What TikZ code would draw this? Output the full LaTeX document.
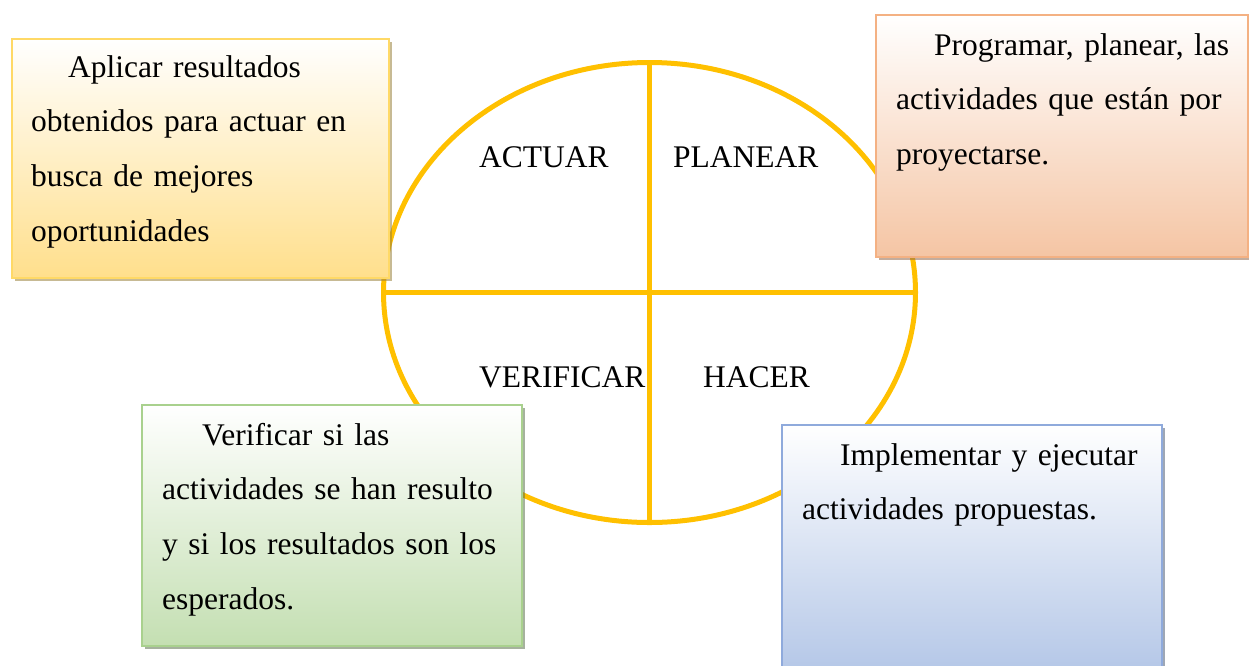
\documentclass[tikz,border=0pt]{standalone}
\usepackage{fontspec}
\setmainfont{Liberation Serif}
\usetikzlibrary{shapes.geometric,shadows}
\definecolor{gold}{HTML}{FFC000}
\definecolor{ylborder}{HTML}{FFD966}
\definecolor{ylfill}{HTML}{FFDF8C}
\definecolor{orborder}{HTML}{F4B183}
\definecolor{orfill}{HTML}{F5C5A4}
\definecolor{grborder}{HTML}{A9D18E}
\definecolor{grfill}{HTML}{C4DFB2}
\definecolor{blborder}{HTML}{8FAADC}
\definecolor{blfill}{HTML}{B3C6E7}
\begin{document}
\begin{tikzpicture}[x=1pt,y=-1pt,
  txt/.style={font=\fontsize{31.5}{54.7}\selectfont, inner sep=0pt, anchor=base west},
  cardtext/.style={txt, text width=#1, align=left},
  card/.style n args={3}{draw=#1, line width=2pt, anchor=north west, inner sep=0pt,
    top color=white, bottom color=#2,
    drop shadow={shadow xshift=3pt, shadow yshift=-3pt, opacity=0.55, fill=#3}},
  wheel/.style={draw=gold, line width=5pt, inner sep=0pt}
]
\useasboundingbox (0,0) rectangle (1249,665);

% cycle wheel
\node[wheel, ellipse, minimum width=532pt, minimum height=460pt] (wh) at (649.5,292.5) {};
\draw[gold, line width=5pt] (wh.north) -- (wh.south);
\draw[gold, line width=5pt] (wh.west) -- (wh.east);

% quadrant labels
\node[txt] (actuar) at (479,167) {ACTUAR};
\node[txt] (planear) at (673,167) {PLANEAR};
\node[txt] (verificar) at (479,387) {VERIFICAR};
\node[txt] (hacer) at (703,387) {HACER};

% cards
\node[card={ylborder}{ylfill}{ylborder!60!black}, minimum width=377pt, minimum height=239pt] (ybox) at (10.5,37.5) {};
\node[card={orborder}{orfill}{orborder!60!black}, minimum width=372pt, minimum height=242pt] (obox) at (874.5,13.5) {};
\node[card={grborder}{grfill}{grborder!55!black}, minimum width=380pt, minimum height=241pt] (gbox) at (140.5,403.5) {};
\node[card={blborder}{blfill}{blborder!55!black}, minimum width=380pt, minimum height=252pt] (bbox) at (780.5,423.5) {};

% card texts
\node[cardtext=360pt] (ytext) at (31,77) {\hspace*{37pt}Aplicar resultados\\obtenidos para actuar en\\busca de mejores\\oportunidades};
\node[cardtext=345pt] (otext) at (896,55) {\hspace*{38pt}Programar, planear, las\\actividades que están por\\proyectarse.};
\node[cardtext=355pt] (gtext) at (162,445) {\hspace*{40pt}Verificar si las\\actividades se han resulto\\y si los resultados son los\\esperados.};
\node[cardtext=355pt] (btext) at (802,465) {\hspace*{38pt}Implementar y ejecutar\\actividades propuestas.};
\end{tikzpicture}
\end{document}
